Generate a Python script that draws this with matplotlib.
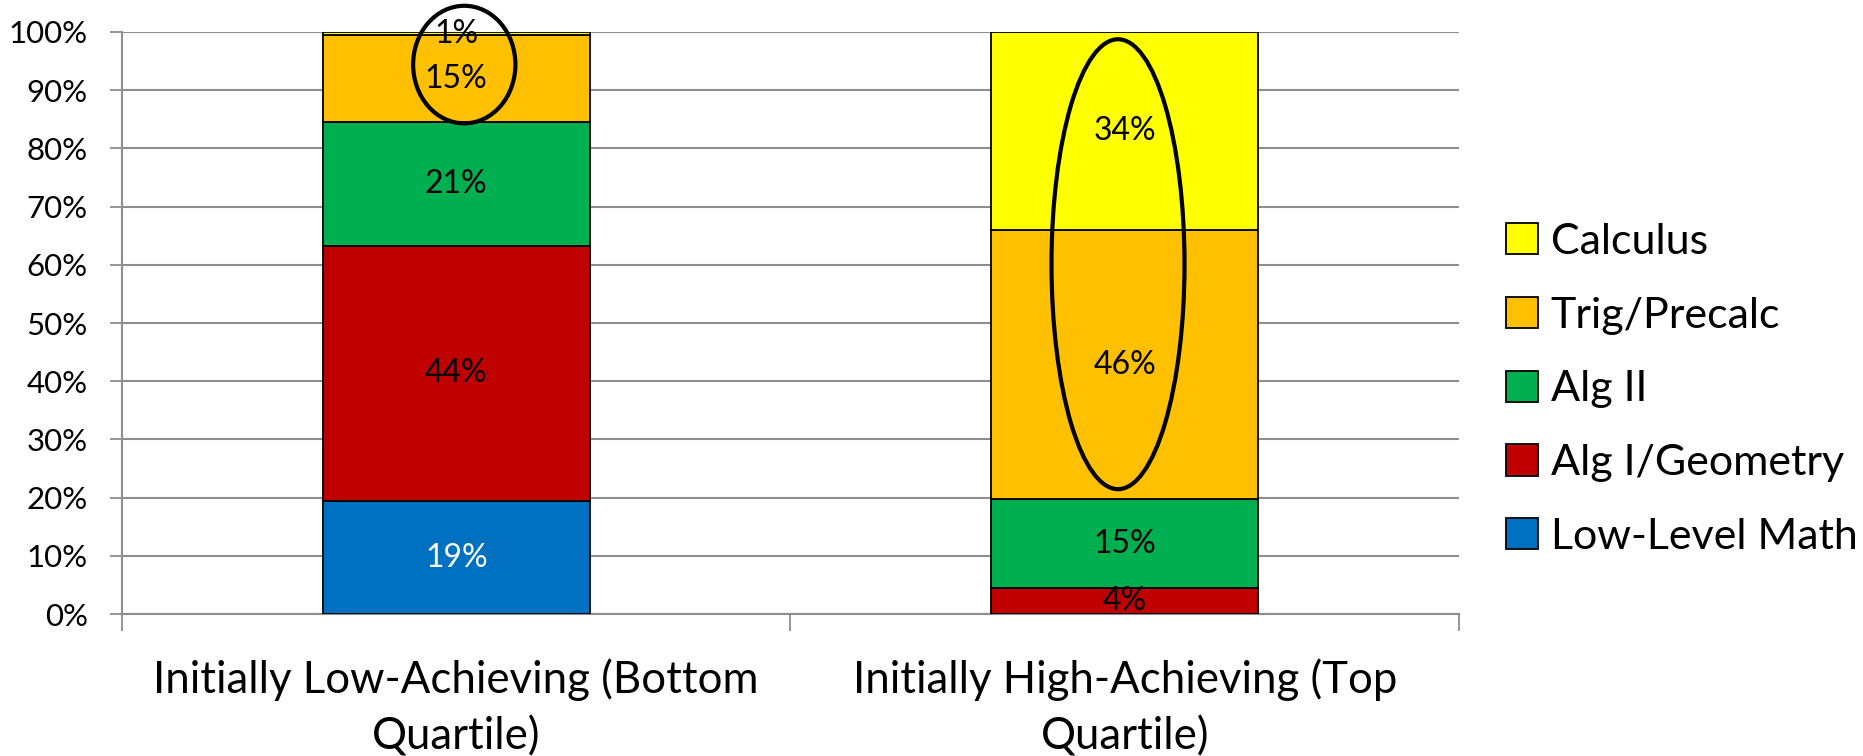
import matplotlib
matplotlib.use("Agg")
import matplotlib.pyplot as plt
from matplotlib.patches import Ellipse, Patch
from matplotlib.ticker import FixedLocator, PercentFormatter

plt.rcParams['font.family'] = ['Lato', 'DejaVu Sans']

groups = ["Initially Low-Achieving (Bottom\nQuartile)",
          "Initially High-Achieving (Top\nQuartile)"]
courses = ["Low-Level Math", "Alg I/Geometry", "Alg II", "Trig/Precalc", "Calculus"]
colors = ["#0070C0", "#C00000", "#00B050", "#FFC000", "#FFFF00"]
label_colors = ["white", "black", "black", "black", "black"]

low_level = [19.4, 0.0]
alg1_geom = [43.9, 4.4]
alg2 = [21.2, 15.3]
trig_precalc = [14.9, 46.3]
calculus = [0.6, 34.0]
series = [low_level, alg1_geom, alg2, trig_precalc, calculus]

fig = plt.figure(figsize=(18.63, 7.56), dpi=100)
ax = fig.add_axes([0.0655, 0.1878, 0.7176, 0.7699])

x = list(range(len(groups)))
bottoms = [0.0] * len(groups)
for vals, col, lcol in zip(series, colors, label_colors):
    ax.bar(x, vals, width=0.4, bottom=bottoms, color=col,
           edgecolor="black", linewidth=1.3, zorder=3)
    for i, v in enumerate(vals):
        if v > 0:
            ax.text(x[i], bottoms[i] + v / 2, f"{v:.0f}%", ha="center",
                    va="center", fontsize=23, color=lcol, zorder=5)
    bottoms = [b + v for b, v in zip(bottoms, vals)]

# highlight rings
ax.add_patch(Ellipse((0.012, 94.4), 0.153, 20.2, fill=False,
                     edgecolor="black", linewidth=3.0, zorder=6, clip_on=False))
ax.add_patch(Ellipse((0.99, 60.1), 0.199, 77.3, fill=False,
                     edgecolor="black", linewidth=3.0, zorder=6, clip_on=False))

ax.set_xlim(-0.5, 1.5)
ax.set_ylim(0, 100)
ax.yaxis.set_major_locator(FixedLocator(range(0, 101, 10)))
ax.yaxis.set_major_formatter(PercentFormatter(decimals=0))
ax.grid(axis="y", color="#8e8e8e", linewidth=1.5, zorder=0)
ax.set_axisbelow(True)

ax.set_xticks(x)
ax.set_xticklabels(groups, fontsize=31.5, linespacing=1.46)
ax.xaxis.set_minor_locator(FixedLocator([-0.5, 0.5, 1.5]))
ax.tick_params(axis="x", which="major", length=0, pad=32)
ax.tick_params(axis="x", which="minor", length=12, width=1.3, color="#8e8e8e")
ax.tick_params(axis="y", length=8.6, width=1.3, color="#8e8e8e", labelsize=22.5, pad=16)

for side in ("top", "right"):
    ax.spines[side].set_visible(False)
for side in ("left", "bottom"):
    ax.spines[side].set_color("#8e8e8e")
    ax.spines[side].set_linewidth(1.5)

handles = [Patch(facecolor=c, edgecolor="black", linewidth=1.3, label=n)
           for c, n in zip(colors, courses)][::-1]
fig.legend(handles=handles, loc="center left",
           bbox_to_anchor=(0.8084, 0.485), bbox_transform=fig.transFigure,
           frameon=False, fontsize=31, handlelength=0.74, handleheight=0.74,
           handletextpad=0.3, labelspacing=0.83, borderpad=0, borderaxespad=0)

fig.savefig("out.png", dpi=100)
